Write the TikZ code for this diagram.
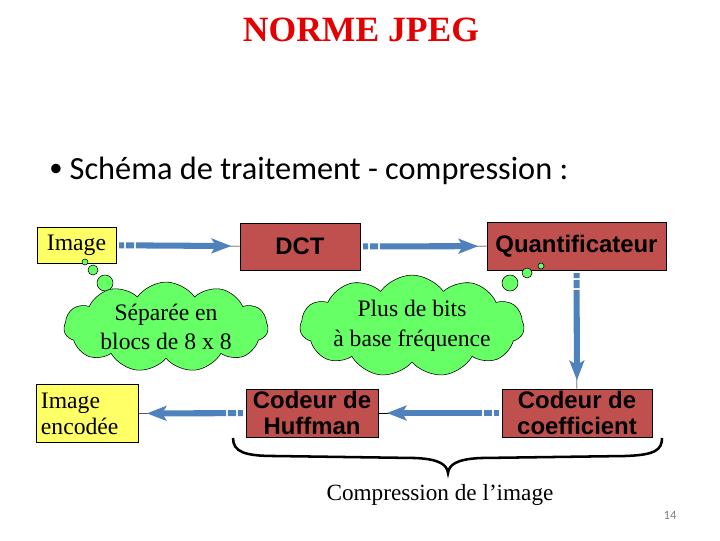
\documentclass[tikz,border=0pt]{standalone}
\usepackage{fontspec}
\setmainfont{Liberation Serif}
\newfontfamily\arialfont{Liberation Sans}
\newfontfamily\calfont{Carlito}
\usetikzlibrary{arrows.meta,shapes.symbols}
\definecolor{boxred}{RGB}{192,80,77}
\definecolor{boxyellow}{RGB}{255,255,102}
\definecolor{cloudgreen}{RGB}{102,255,102}
\definecolor{flowblue}{RGB}{79,129,189}
\definecolor{titlered}{RGB}{228,0,0}
\begin{document}
\begin{tikzpicture}[x=0.025cm, y=-0.025cm,
	input style/.style={rectangle, draw, fill=boxyellow, inner sep=0pt, font=\fontsize{16.8}{18.5}\selectfont},
	proc style/.style={rectangle, draw, fill=boxred, inner sep=0pt, align=center, font=\arialfont\bfseries\fontsize{17}{18}\selectfont},
	note style/.style={cloud, cloud puffs=11, cloud puff arc=110, cloud ignores aspect, draw, fill=cloudgreen, align=center, inner sep=0pt, font=\fontsize{16.8}{21}\selectfont},
	bubble/.style={draw, fill=cloudgreen},
	flow style/.style={draw=flowblue, line width=4.3pt, dash pattern=on 3.5pt off 1.4pt on 5.7pt off 1.4pt on 400pt, -{Stealth[length=14pt, width=10.5pt, inset=3pt]}, shorten <=2pt, shorten >=6pt},
	tip style/.style={draw, thin, shorten <=60pt}]
	\useasboundingbox (0,0) rectangle (720,540);
	\node[anchor=base, text=titlered, font=\bfseries\fontsize{25.3}{28}\selectfont] (title) at (361,41) {NORME JPEG};
	\node[anchor=base west, inner sep=0pt, font=\calfont\fontsize{23}{26}\selectfont] (intro) at (49,179) {\makebox[14.5pt][l]{\raisebox{1.5pt}{\fontsize{19}{19}\selectfont\textbullet}}Schéma de traitement - compression :};
	\node[input style, minimum width=1.975cm, minimum height=0.9cm] (img) at (76.5,245) {Image};
	\node[proc style, minimum width=3cm, minimum height=1.175cm] (dct) at (300,246.5) {DCT};
	\node[proc style, minimum width=4.475cm, minimum height=1.2cm] (quant) at (576.5,246) {Quantificateur};
	\node[input style, minimum width=2.55cm, minimum height=1.45cm, text width=2.3cm, align=left] (enc) at (87,413.5) {Image\\encodée};
	\node[proc style, minimum width=3.3cm, minimum height=1.2cm] (huff) at (312,413) {Codeur de\\Huffman};
	\node[proc style, minimum width=3.75cm, minimum height=1.2cm] (coef) at (577,413) {Codeur de\\coefficient};
	% bulles
	\draw[bubble] (85,262) circle[radius=3];
	\draw[bubble] (93,270) circle[radius=5];
	\draw[bubble] (105,283) circle[radius=8];
	\draw[bubble] (541,266) circle[radius=3];
	\draw[bubble] (527,273) circle[radius=5];
	\draw[bubble] (510,283) circle[radius=8];
	\node[note style, minimum width=5.1cm, minimum height=2cm] (sep) at (166,327) {Séparée en\\blocs de 8 x 8};
	\node[note style, minimum width=5.4cm, minimum height=2.4cm] (bits) at (412,326) {Plus de bits\\à base fréquence};
	% fleches
	\draw[tip style] (img) -- (dct);
	\draw[tip style] (dct) -- (quant);
	\draw[tip style] (quant) -- (coef);
	\draw[tip style] (coef) -- (huff);
	\draw[tip style] (huff) -- (enc);
	\draw[flow style] (img) -- (dct);
	\draw[flow style] (dct) -- (quant);
	\draw[flow style] (quant) -- (coef);
	\draw[flow style] (coef) -- (huff);
	\draw[flow style] (huff) -- (enc);
	% accolade
	\draw[line width=1.8pt] (233,438) .. controls (233,452) and (245,456) .. (275,456) -- (415,458) .. controls (440,459) and (447,465) .. (448,473) coordinate (tip) .. controls (449,465) and (456,459) .. (481,458) -- (625,456) .. controls (655,455) and (662,450) .. (662,438);
	\node[anchor=base, font=\fontsize{16.5}{18}\selectfont] (cap) at (440,500) {Compression de l'image};
	\node[anchor=base, text=gray, font=\calfont\fontsize{9}{10}\selectfont] (page) at (670,519) {14};
\end{tikzpicture}
\end{document}
